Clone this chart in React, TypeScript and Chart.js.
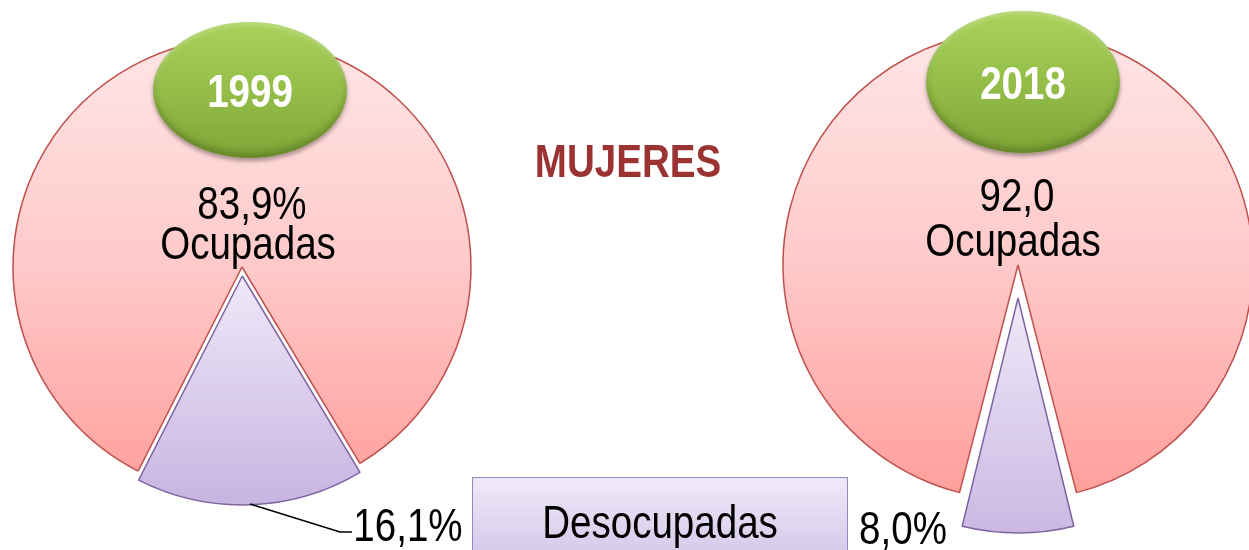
import React, { useEffect, useRef } from "react";
import { Chart, registerables } from "chart.js";
Chart.register(...registerables);

// ---- data ----
const categories = ["Desocupadas", "Ocupadas"];
const years = ["1999", "2018"];
const values1999 = [16.1, 83.9];
const values2018 = [8.0, 92.0];
const ocupadasLabels = ["83,9%", "92,0"];
const desocupadasLabels = ["16,1%", "8,0%"];
const chartTitle = "MUJERES";

const FONT = '"Liberation Sans", Arial, sans-serif';
const CANVAS = 640;

// keeps the exploded slice at the same radius as the pie (Chart.js grows it with offset)
const keepRadiusPlugin = {
  id: "keepRadius",
  afterDatasetsUpdate(chart: any) {
    const meta = chart.getDatasetMeta(0);
    meta.data.forEach((arc: any) => {
      const off = (arc.options.offset || 0) / 4;
      const fix = 1 - Math.sin(Math.min(Math.PI, arc.circumference || 0));
      arc.outerRadius = Math.max(arc.outerRadius - off * fix, 0);
    });
  },
};

type PieProps = { values: number[]; cx: number; cy: number; radius: number; offset: number; tilt: number };

function Pie({ values, cx, cy, radius, offset, tilt }: PieProps) {
  const ref = useRef<HTMLCanvasElement | null>(null);
  useEffect(() => {
    if (!ref.current) return;
    const total = values.reduce((a, b) => a + b, 0);
    const desAngle = (values[0] / total) * 360;
    const chart = new Chart(ref.current, {
      type: "doughnut",
      data: {
        labels: categories,
        datasets: [
          {
            data: values,
            cutout: 0,
            radius: radius,
            offset: [offset * 4, 0],
            borderWidth: 1.5,
            borderColor: ["#8064A2", "#C0504D"],
            backgroundColor: (c: any) => {
              const ch = c.chart;
              const area = ch.chartArea;
              const i = c.dataIndex;
              if (!area) return i === 0 ? "#d9cdee" : "#ffc0c0";
              const my = (area.top + area.bottom) / 2;
              if (i === 0) {
                const g = ch.ctx.createLinearGradient(0, my, 0, my + radius + offset);
                g.addColorStop(0, "#EEE9F8");
                g.addColorStop(1, "#C6B2E0");
                return g;
              }
              const g = ch.ctx.createLinearGradient(0, my - radius, 0, my + radius);
              g.addColorStop(0, "#FFE6E6");
              g.addColorStop(0.5, "#FFC9C9");
              g.addColorStop(1, "#FF9E9B");
              return g;
            },
          } as any,
        ],
      },
      options: {
        animation: false,
        responsive: false,
        maintainAspectRatio: false,
        rotation: 180 - desAngle / 2 + tilt,
        layout: { padding: 0 },
        plugins: { legend: { display: false }, tooltip: { enabled: false }, title: { display: false } },
      } as any,
      plugins: [keepRadiusPlugin],
    });
    return () => chart.destroy();
  }, []);
  return (
    <canvas
      ref={ref}
      width={CANVAS}
      height={CANVAS}
      style={{ position: "absolute", left: cx - CANVAS / 2, top: cy - CANVAS / 2, width: CANVAS, height: CANVAS }}
    />
  );
}

function Label({ x, y, text, size = 47, color = "#000", bold = false }: any) {
  return (
    <div
      style={{
        position: "absolute",
        left: x,
        top: y,
        transform: "translate(-50%, -50%) scaleX(0.82)",
        fontFamily: FONT,
        fontSize: size,
        fontWeight: bold ? "bold" : "normal",
        color,
        lineHeight: 1,
        whiteSpace: "nowrap",
      }}
    >
      {text}
    </div>
  );
}

function Badge({ x, y, rx, ry, text }: any) {
  return (
    <div
      style={{
        position: "absolute",
        left: x - rx,
        top: y - ry,
        width: rx * 2,
        height: ry * 2,
        borderRadius: "50%",
        background: "linear-gradient(#A9D25B 0%, #96C04A 45%, #7FA537 100%)",
        boxShadow: "0 3px 4px rgba(0,0,0,0.35), inset 0 -5px 6px rgba(70,95,25,0.45), inset 0 3px 4px rgba(255,255,255,0.25)",
      }}
    >
      <span
        style={{
          position: "absolute",
          left: "50%",
          top: "50%",
          transform: "translate(-50%, -50%) scaleX(0.82)",
          fontFamily: FONT,
          fontWeight: "bold",
          fontSize: 47,
          color: "#fff",
          lineHeight: 1,
          whiteSpace: "nowrap",
        }}
      >
        {text}
      </span>
    </div>
  );
}

export default function App() {
  return (
    <div
      style={{
        position: "fixed",
        left: 0,
        top: 0,
        width: 1249,
        height: 550,
        overflow: "hidden",
        background: "#fff",
      }}
    >
      <Pie values={values1999} cx={241.5} cy={267} radius={229} offset={9} tilt={-2} />
      <Pie values={values2018} cx={1018} cy={265} radius={235} offset={33} tilt={0} />

      <Badge x={250} y={90} rx={97} ry={68} text={years[0]} />
      <Badge x={1023} y={82} rx={97} ry={71} text={years[1]} />

      <Label x={628} y={160} text={chartTitle} bold color="#9B3333" />

      <Label x={252} y={202} text={ocupadasLabels[0]} />
      <Label x={247.5} y={242} text={categories[1]} />
      <Label x={1017} y={194} text={ocupadasLabels[1]} />
      <Label x={1012.5} y={239} text={categories[1]} />

      <svg style={{ position: "absolute", left: 0, top: 0 }} width={1249} height={550}>
        <polyline points="250,504 340,532 352,532" fill="none" stroke="#000" strokeWidth={1.5} />
      </svg>
      <Label x={408} y={524} text={desocupadasLabels[0]} />
      <Label x={903} y={527} text={desocupadasLabels[1]} />

      <div
        style={{
          position: "absolute",
          left: 472,
          top: 477,
          width: 376,
          height: 90,
          boxSizing: "border-box",
          border: "1.5px solid #9A86C0",
          background: "linear-gradient(#EFEAF8, #D2C4E8)",
        }}
      />
      <Label x={660} y={521} text={categories[0]} />
    </div>
  );
}
